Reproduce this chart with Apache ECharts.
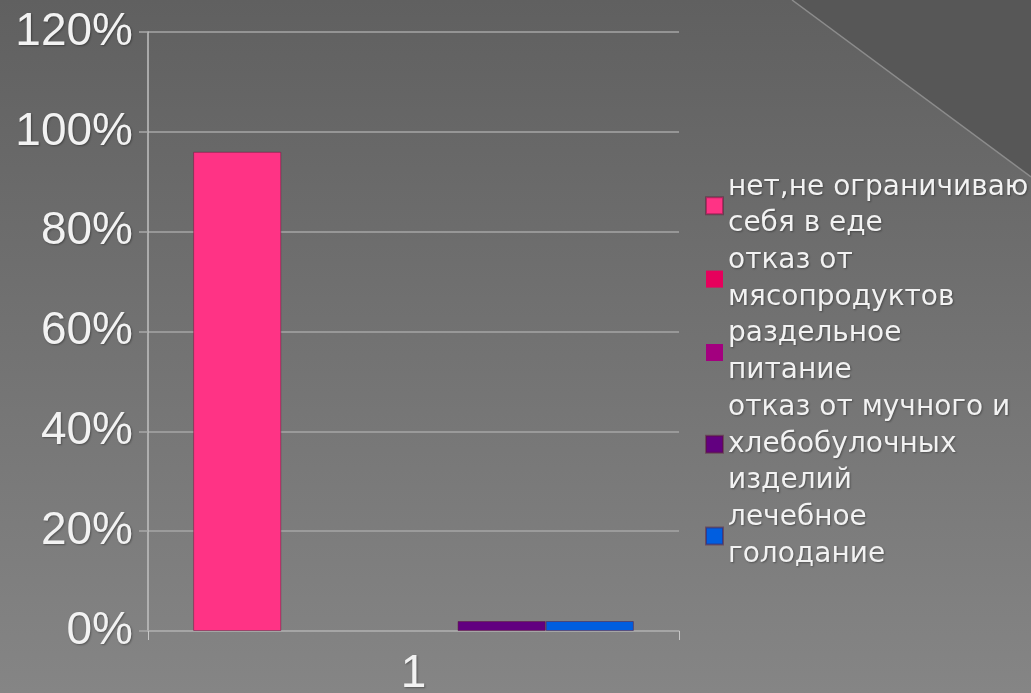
<!DOCTYPE html>
<html>
<head>
<meta charset="utf-8">
<script src="https://cdn.jsdelivr.net/npm/echarts@6/dist/echarts.min.js"></script>
<style>
html,body{margin:0;padding:0;width:1031px;height:693px;overflow:hidden;background:#707070;}
#c{width:1031px;height:693px;}
</style>
</head>
<body>
<div id="c"></div>
<script>
var categories = ['1'];
var seriesNames = [
  'нет,не ограничиваю\nсебя в еде',
  'отказ от\nмясопродуктов',
  'раздельное\nпитание',
  'отказ от мучного и\nхлебобулочных\nизделий',
  'лечебное\nголодание'
];
var seriesValues = [
  [0.96],
  [0],
  [0],
  [0.02],
  [0.02]
];
var seriesColors = ['#ff3385', '#e6005c', '#a3007f', '#620080', '#005ee0'];
var yTicks = [0, 0.2, 0.4, 0.6, 0.8, 1.0, 1.2];

var chart = echarts.init(document.getElementById('c'), null, {renderer: 'canvas'});
var font = '"Liberation Sans", Arial, sans-serif';
var shadow = {textShadowColor: 'rgba(0,0,0,0.35)', textShadowBlur: 2, textShadowOffsetX: 1, textShadowOffsetY: 1};

var option = {
  backgroundColor: {
    type: 'linear', x: 0, y: 0, x2: 0, y2: 1,
    colorStops: [{offset: 0, color: '#606060'}, {offset: 1, color: '#858585'}]
  },
  animation: false,
  graphic: [
    {type: 'polygon', silent: true, z: -1,
     shape: {points: [[792, 0], [1031, 0], [1031, 177]]},
     style: {fill: '#575757'}},
    {type: 'line', silent: true, z: -1,
     shape: {x1: 792, y1: 0, x2: 1031, y2: 177},
     style: {stroke: '#8c8c8c', lineWidth: 1.5}}
  ],
  grid: {left: 148, right: 352, top: 32, bottom: 62, containLabel: false, outerBoundsMode: 'none'},
  legend: {
    orient: 'vertical',
    left: 705,
    top: 169,
    padding: 0,
    itemGap: 0,
    itemWidth: 17,
    itemHeight: 17,
    icon: 'rect',
    data: seriesNames,
    textStyle: Object.assign({color: '#f2f2f2', fontSize: 28, fontFamily: '"DejaVu Sans", sans-serif', lineHeight: 36.7}, shadow)
  },
  xAxis: {
    type: 'category',
    data: categories,
    axisLine: {show: true, lineStyle: {color: '#a8a8a8', width: 1.5}},
    axisTick: {show: true, length: 9, lineStyle: {color: '#c8c8c8', width: 1}},
    axisLabel: Object.assign({color: '#f2f2f2', fontSize: 46, fontFamily: font, margin: 20}, shadow)
  },
  yAxis: {
    type: 'value',
    min: 0,
    max: 1.2,
    interval: 0.2,
    axisLine: {show: true, lineStyle: {color: '#c0c0c0', width: 1.5}},
    axisTick: {show: true, length: 9, lineStyle: {color: '#a8a8a8', width: 1.5}},
    splitLine: {show: true, lineStyle: {color: '#a6a6a6', width: 1.5}},
    axisLabel: Object.assign({
      color: '#f2f2f2', fontSize: 46, fontFamily: font, margin: 15,
      formatter: function (v) {
        var i = yTicks.findIndex(function (t) { return Math.abs(t - v) < 1e-9; });
        return Math.round((i >= 0 ? yTicks[i] : v) * 100) + '%';
      }
    }, shadow)
  },
  series: seriesNames.map(function (name, i) {
    var hasValue = seriesValues[i].some(function (v) { return v > 0; });
    return {
      name: name,
      type: 'bar',
      data: seriesValues[i],
      barGap: '0%',
      barCategoryGap: '17%',
      itemStyle: {color: seriesColors[i], borderColor: 'rgba(90,20,50,0.45)', borderWidth: hasValue ? 1 : 0}
    };
  })
};
chart.setOption(option);
</script>
</body>
</html>
